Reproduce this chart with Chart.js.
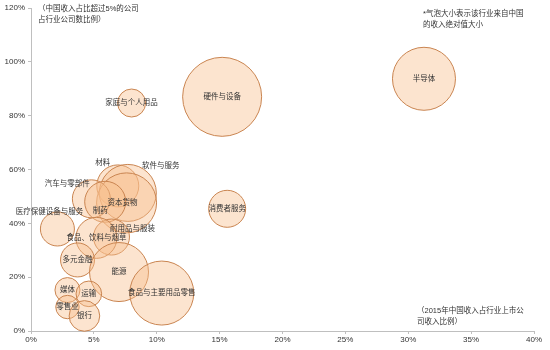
<!DOCTYPE html>
<html>
<head>
<meta charset="utf-8">
<script src="https://cdn.jsdelivr.net/npm/chart.js@4"></script>
<style>
  html, body { margin: 0; padding: 0; background: #fff; }
  #wrap { width: 550px; height: 350px; }
</style>
</head>
<body>
<div id="wrap"><canvas id="chart" width="550" height="350"></canvas></div>
<script>
// Industry bubbles: x = China revenue share of listed companies (2015, %),
// y = share of companies with >5% China revenue (%), r = bubble size
const industries = [
  '半导体', '硬件与设备', '家庭与个人用品', '消费者服务', '材料',
  '软件与服务', '资本货物', '汽车与零部件', '制药', '医疗保健设备与服务',
  '耐用品与服装', '食品、饮料与烟草', '多元金融', '能源', '食品与主要用品零售',
  '媒体', '运输', '零售业', '银行'
];
const chinaRevenueShare = [
  31.25, 15.2, 8.0, 15.6, 6.9,
  7.7, 7.6, 4.8, 5.9, 2.1,
  6.4, 5.2, 3.7, 7.0, 10.4,
  2.9, 4.6, 2.9, 4.25
];
const companyShare = [
  93.7, 87.0, 84.7, 45.4, 53.9,
  51.3, 47.6, 49.1, 48.0, 37.9,
  34.9, 34.6, 26.4, 21.9, 14.1,
  15.2, 13.8, 8.9, 5.6
];
const revenueSize = [
  31.5, 39.5, 14, 18.5, 21,
  28.5, 30, 19, 20.5, 17,
  18, 20.5, 17, 29.5, 32,
  12.5, 12.8, 11.7, 15.3
];

const xTicks = [0, 5, 10, 15, 20, 25, 30, 35, 40];
const yTicks = [0, 20, 40, 60, 80, 100, 120];

const noteTopLeft = ['（中国收入占比超过5%的公司', '占行业公司数比例）'];
const noteTopRight = ['*气泡大小表示该行业来自中国', '的收入绝对值大小'];
const noteBottomRight = ['（2015年中国收入占行业上市公', '司收入比例）'];

// labels that were nudged off their bubble centre (pixels)
const labelNudge = {
  '医疗保健设备与服务': [-8, -17],
  '制药': [-5, 9],
  '汽车与零部件': [-24, -15],
  '材料': [-15, -23],
  '软件与服务': [33, -27],
  '资本货物': [-4, 0],
  '耐用品与服装': [21, -8]
};

const FONT = '"Liberation Sans", "Noto Sans CJK SC", sans-serif';
const TEXT = '#333333';
const AXIS = '#bfbfbf';

const points = industries.map((name, i) => ({
  x: chinaRevenueShare[i],
  y: companyShare[i],
  r: revenueSize[i],
  name: name
}));

const bubbleLabels = {
  id: 'bubbleLabels',
  afterDatasetsDraw(chart) {
    const ctx = chart.ctx;
    const meta = chart.getDatasetMeta(0);
    ctx.save();
    ctx.font = '7.5px ' + FONT;
    ctx.fillStyle = TEXT;
    ctx.textAlign = 'center';
    ctx.textBaseline = 'middle';
    meta.data.forEach((el, i) => {
      const name = industries[i];
      const d = labelNudge[name] || [0, 0];
      ctx.fillText(name, el.x + d[0], el.y + d[1]);
    });
    ctx.restore();
  }
};

const notes = {
  id: 'notes',
  afterDraw(chart) {
    const ctx = chart.ctx;
    const area = chart.chartArea;
    ctx.save();
    ctx.font = '7.5px ' + FONT;
    ctx.fillStyle = TEXT;
    ctx.textAlign = 'left';
    ctx.textBaseline = 'middle';
    noteTopLeft.forEach((t, i) => ctx.fillText(t, area.left + 7, area.top + 1 + i * 11));
    noteTopRight.forEach((t, i) => ctx.fillText(t, 423, area.top + 6 + i * 11));
    noteBottomRight.forEach((t, i) => ctx.fillText(t, 417, area.bottom - 20 + i * 11));
    ctx.restore();
  }
};

new Chart(document.getElementById('chart'), {
  type: 'bubble',
  data: {
    datasets: [{
      data: points,
      backgroundColor: 'rgba(248, 190, 140, 0.42)',
      borderColor: '#c98450',
      borderWidth: 1,
      hoverBorderWidth: 1,
      clip: false
    }]
  },
  options: {
    responsive: false,
    animation: false,
    layout: { autoPadding: false, padding: { left: 0, right: 16, top: 8, bottom: 0 } },
    plugins: {
      legend: { display: false },
      tooltip: { enabled: false }
    },
    scales: {
      x: {
        type: 'linear',
        min: 0,
        max: 40,
        afterBuildTicks: (scale) => { scale.ticks = xTicks.map(v => ({ value: v })); },
        afterFit: (scale) => { scale.height = 19; },
        ticks: {
          callback: (v) => v + '%',
          font: { family: FONT, size: 8 },
          color: TEXT,
          padding: 1,
          maxRotation: 0
        },
        grid: { drawOnChartArea: false, tickLength: 3, color: AXIS },
        border: { color: AXIS, width: 1 }
      },
      y: {
        type: 'linear',
        min: 0,
        max: 120,
        afterBuildTicks: (scale) => { scale.ticks = yTicks.map(v => ({ value: v })); },
        afterFit: (scale) => { scale.width = 31; },
        ticks: {
          callback: (v) => v + '%',
          font: { family: FONT, size: 8 },
          color: TEXT,
          padding: 3
        },
        grid: { drawOnChartArea: false, tickLength: 3, color: AXIS },
        border: { color: AXIS, width: 1 }
      }
    }
  },
  plugins: [bubbleLabels, notes]
});
</script>
</body>
</html>
